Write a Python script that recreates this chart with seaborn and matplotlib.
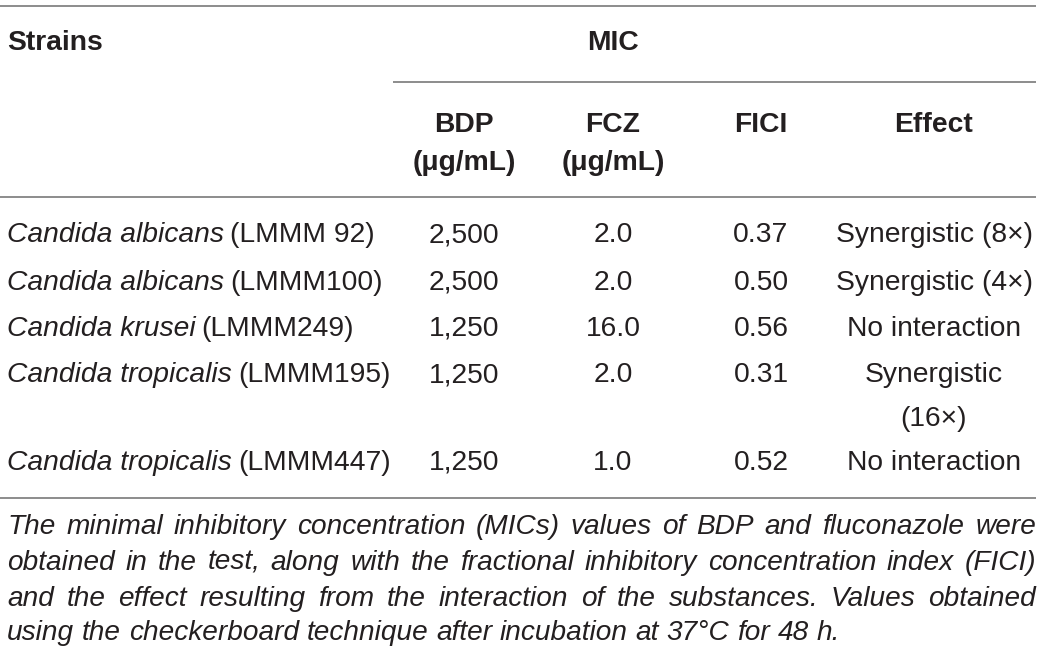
import matplotlib
matplotlib.use("Agg")
import matplotlib.pyplot as plt
import seaborn as sns

# table content
species = ["Candida albicans", "Candida albicans", "Candida krusei",
           "Candida tropicalis", "Candida tropicalis"]
strain_ids = ["(LMMM 92)", "(LMMM100)", "(LMMM249)", "(LMMM195)", "(LMMM447)"]
bdp = ["2,500", "2,500", "1,250", "1,250", "1,250"]
fcz = ["2.0", "2.0", "16.0", "2.0", "1.0"]
fici = ["0.37", "0.50", "0.56", "0.31", "0.52"]
effect = ["Synergistic (8\u00d7)", "Synergistic (4\u00d7)", "No interaction",
          "Synergistic\n(16\u00d7)", "No interaction"]
col_heads = ["BDP\n(\u03bcg/mL)", "FCZ\n(\u03bcg/mL)", "FICI", "Effect"]
caption_lines = [
    "The minimal inhibitory concentration (MICs) values of BDP and fluconazole were",
    "obtained in the test, along with the fractional inhibitory concentration index (FICI)",
    "and the effect resulting from the interaction of the substances. Values obtained",
    "using the checkerboard technique after incubation at 37\u00b0C for 48 h.",
]

sns.set_theme(style="white")
plt.rcParams['font.family'] = ['Liberation Sans', 'DejaVu Sans']

W, H = 1041, 658
fig = plt.figure(figsize=(W / 100, H / 100), dpi=100)
ax = fig.add_axes([0, 0, 1, 1])
ax.set_xlim(0, W)
ax.set_ylim(H, 0)
ax.axis("off")

txt = "#231f20"
rule = "#8c8c8c"
fs = 20.3
cap_fs = 20.2
base = 7.5  # baseline offset from visual centre of capitals

col_x = [464, 613, 761, 934]
row_y = [235, 282, 328, 375, 462]

# rules
ax.hlines([6, 197, 498], 0, 1036, color=rule, lw=1.4)
ax.hlines(82, 393, 1036, color=rule, lw=1.4)

# header
ax.text(7, 43 + base, "Strains", fontsize=fs, fontweight="bold", color=txt, va="baseline", ha="left")
ax.text(613, 43 + base, "MIC", fontsize=fs, fontweight="bold", color=txt, va="baseline", ha="center")
for x, h in zip(col_x, col_heads):
    for k, ln in enumerate(h.split("\n")):
        ax.text(x, 124 + 38 * k + base, ln, fontsize=fs, fontweight="bold", color=txt,
                va="baseline", ha="center")

fig.canvas.draw()
renderer = fig.canvas.get_renderer()
inv = ax.transData.inverted()

# body rows
for i in range(len(species)):
    y = row_y[i] + base
    t = ax.text(7, y, species[i], fontsize=fs, style="italic", color=txt, va="baseline", ha="left")
    bb = t.get_window_extent(renderer)
    x_end = inv.transform((bb.x1, bb.y0))[0]
    ax.text(x_end + 6, y, strain_ids[i], fontsize=fs, color=txt, va="baseline", ha="left")
    for x, v in zip(col_x[:3], [bdp[i], fcz[i], fici[i]]):
        ax.text(x, y, v, fontsize=fs, color=txt, va="baseline", ha="center")
    for k, ln in enumerate(effect[i].split("\n")):
        ax.text(col_x[3], y + 43 * k, ln, fontsize=fs, color=txt, va="baseline", ha="center")


# justified caption
def word_w(w):
    t = ax.text(0, 0, w, fontsize=cap_fs, style="italic")
    bb = t.get_window_extent(renderer)
    t.remove()
    return bb.width


left, right = 7, 1036
cap_y = [526, 562, 598, 633]
space_w = word_w("a b") - word_w("ab")

for li, line in enumerate(caption_lines):
    words = line.split(" ")
    widths = [word_w(w) for w in words]
    if li < len(caption_lines) - 1:
        gap = max((right - left - sum(widths)) / (len(words) - 1), space_w * 0.6)
    else:
        gap = space_w
    x = left
    for w, ww in zip(words, widths):
        ax.text(x, cap_y[li] + base, w, fontsize=cap_fs, style="italic", color=txt,
                va="baseline", ha="left")
        x += ww + gap

fig.savefig("out.png", dpi=100)
